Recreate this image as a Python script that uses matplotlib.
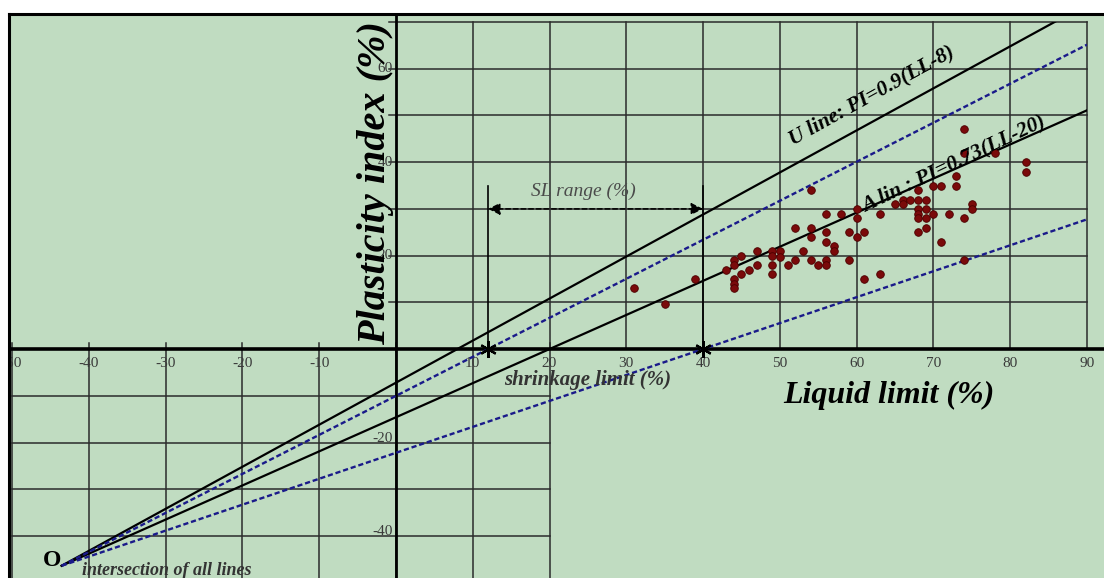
import numpy as np
import matplotlib
matplotlib.use("Agg")
import matplotlib.pyplot as plt
from matplotlib.patches import Rectangle
from matplotlib.lines import Line2D

plt.rcParams['font.family'] = ['Liberation Serif', 'DejaVu Serif']

# liquid limit / plasticity index of the tested samples
ll = [31, 35, 39, 43,
      44, 44, 44, 44, 44,
      45, 45, 46, 47, 47,
      49, 49, 49, 49, 50, 50, 51,
      52, 52, 53, 54, 54, 54, 54, 55,
      56, 56, 56, 56, 56, 57, 57, 58, 59, 59,
      60, 60, 60, 61, 61, 63, 63, 65, 66, 66, 67,
      68, 68, 68, 68, 68, 68, 69, 69, 69, 69,
      70, 70, 71, 71, 72, 73, 73, 74, 74, 74, 74,
      75, 75, 78, 82, 82]
pi = [13, 9.7, 15, 17,
      19, 18, 15, 14, 13,
      20, 16, 17, 21, 18,
      21, 20, 18, 16, 21, 19.7, 18,
      26, 19, 21, 34, 26, 24, 19, 18,
      29, 25, 23, 19, 18, 22, 21, 29, 25, 19,
      30, 28, 24, 25, 15, 29, 16, 31, 32, 31, 32,
      34, 32, 30, 29, 28, 25, 32, 30, 28, 26,
      35, 29, 35, 23, 29, 37, 35, 47, 42, 28, 19,
      31, 30, 42, 40, 38]

# Casagrande lines PI = slope * (LL - offset)
u_slope, u_offset = 0.9, 8
a_slope, a_offset = 0.73, 20
# shrinkage limit range
sl_values = [12, 40]

x_ticks = [-50, -40, -30, -20, -10, 10, 20, 30, 40, 50, 60, 70, 80, 90]
y_ticks = [-40, -20, 20, 40, 60]

W, H = 1104, 578
bg = '#c0dcc1'
grid_c = '#2b2b2b'
label_c = '#3a3a3a'

fig = plt.figure(figsize=(W / 100, H / 100), dpi=100, facecolor='white')
fig.add_artist(Rectangle((9 / W, 0), 1, 1 - 14 / H, transform=fig.transFigure,
                         facecolor=bg, edgecolor='none', zorder=-5))

ax = fig.add_axes([12 / W, 0, (1087 - 12) / W, (H - 22) / H])
ax.set_zorder(1)
ax.set_xlim(-50, 90)
ax.set_ylim(-49, 70)
ax.set_axis_off()

# grid: upper-right quadrant
for x in range(10, 100, 10):
    ax.plot([x, x], [0, 70], color=grid_c, lw=1.1, zorder=1, clip_on=False)
for y in range(10, 80, 10):
    ax.plot([-0.9, 90], [y, y], color=grid_c, lw=1.1, zorder=1, clip_on=False)
# grid: lower-left part
for x in range(-50, 30, 10):
    ax.plot([x, x], [-49, 1.4], color=grid_c, lw=1.1, zorder=1, clip_on=False)
for y in range(-40, 0, 10):
    ax.plot([-50, 20], [y, y], color=grid_c, lw=1.1, zorder=1, clip_on=False)

# main axes
ax.plot([-50.5, 92.5], [0, 0], color='black', lw=2.6, zorder=3, clip_on=False)
ax.plot([0, 0], [-49, 71.8], color='black', lw=2.0, zorder=3, clip_on=False)

for x in x_ticks:
    ax.text(x, -3.0, str(x), ha='center', va='center', fontsize=11,
            color=label_c, zorder=2)
for y in y_ticks:
    # negative labels sit a little higher so the minus sign clears the grid line
    ax.text(-0.4, y + (0.9 if y < 0 else 0), str(y), ha='right', va='center',
            fontsize=11, color=label_c, zorder=2)

# intersection point of all lines
ll_o = (a_slope * a_offset - u_slope * u_offset) / (a_slope - u_slope)
pi_o = u_slope * (ll_o - u_offset)
x_end = np.array([ll_o, 90])

ax.plot(x_end, u_slope * (x_end - u_offset), color='black', lw=1.6, zorder=4)
ax.plot(x_end, a_slope * (x_end - a_offset), color='black', lw=1.6, zorder=4)
for sl in sl_values:
    k = -pi_o / (sl - ll_o)
    ax.plot(x_end, k * (x_end - sl), color='#1a1a8a', lw=1.7,
            dashes=(2.2, 1.2), zorder=4)

# shrinkage limit range marker
for sl in sl_values:
    ax.plot([sl, sl], [0, 35], color='black', lw=1.2, zorder=4)
    ax.plot(sl, 0, marker=(6, 2, 0), ms=12, mec='black', mew=1.6, zorder=6)
ax.annotate('', xy=(sl_values[0], 30), xytext=(sl_values[1], 30),
            arrowprops=dict(arrowstyle='<|-|>', color='black', lw=1.1,
                            linestyle=(0, (3, 2)), mutation_scale=18,
                            shrinkA=0, shrinkB=0), zorder=5)
ax.text(24.4, 33.8, 'SL range (%)', ha='center', va='center', fontsize=14,
        style='italic', color='#4a4a4a', zorder=5)

ax.scatter(ll, pi, s=30, color='#7a0a0a', edgecolors='#4a0000',
           linewidths=0.6, zorder=7)

# labels
ax.text(-2.6, 35.6, 'Plasticity index (%)', rotation=90, ha='center',
        va='center', fontsize=29, weight='bold', style='italic', zorder=8)
ax.text(64.2, -9.9, 'Liquid limit (%)', ha='center', va='center',
        fontsize=23, weight='bold', style='italic', zorder=8)
ax.text(25.0, -6.6, 'shrinkage limit (%)', ha='center', va='center',
        fontsize=15, weight='bold', style='italic', color='#333333', zorder=8)
ax.text(62.0, 54.2, 'U line: PI=0.9(LL-8)', ha='center', va='center',
        rotation=29, fontsize=15.5, weight='bold', style='italic', zorder=8)
ax.text(72.6, 39.6, 'A lin : PI=0.73(LL-20)', ha='center', va='center',
        rotation=25.5, fontsize=15.5, weight='bold', style='italic', zorder=8)
ax.text(-44.8, -45.2, 'O', ha='center', va='center', fontsize=17,
        weight='bold', zorder=8)
ax.text(-29.8, -47.4, 'intersection of all lines', ha='center', va='center',
        fontsize=13, weight='bold', style='italic', color='#333333', zorder=8)

# white margins and outer frame
fig.add_artist(Rectangle((0, 0), 9 / W, 1, transform=fig.transFigure,
                         facecolor='white', edgecolor='none', zorder=10))
fig.add_artist(Rectangle((0, 1 - 14 / H), 1, 14 / H, transform=fig.transFigure,
                         facecolor='white', edgecolor='none', zorder=10))
fig.add_artist(Line2D([9 / W, 9 / W], [0, 1 - 14 / H], transform=fig.transFigure,
                      color='black', lw=2.2, zorder=11))
fig.add_artist(Line2D([9 / W, 1], [1 - 14 / H, 1 - 14 / H], transform=fig.transFigure,
                      color='black', lw=2.2, zorder=11))

fig.savefig('out.png', dpi=100, facecolor='white')
